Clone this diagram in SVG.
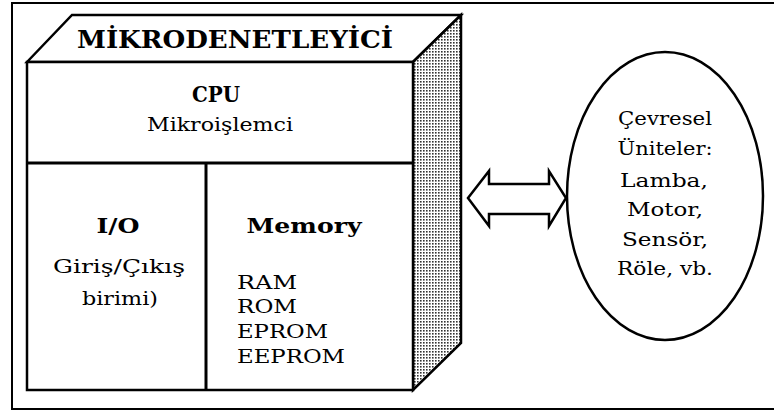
<svg xmlns="http://www.w3.org/2000/svg" width="774" height="412" viewBox="0 0 774 412">
<style>
.ln{stroke:#000;stroke-width:2.5;stroke-linejoin:miter}
.t{font-family:"DejaVu Serif","Liberation Serif",serif;fill:#000}
.b{font-weight:bold}
.c{text-anchor:middle}
.r{font-size:18px}
</style>
<defs>
<pattern id="stip" width="3" height="3" patternUnits="userSpaceOnUse">
<rect width="3" height="3" fill="#fff"/>
<rect x="0" y="0" width="1.6" height="1.6" fill="#333"/>
</pattern>
</defs>
<rect width="774" height="412" fill="#fff"/>
<g id="frame">
<path d="M790 3 H12 V409 H790" fill="none" stroke="#000" stroke-width="2"/>
</g>
<g id="mikrodenetleyici">
<polygon points="27,62 72,15 461,15 413,62" fill="#fff" class="ln"/>
<polygon points="413,62 461,15 461,343 413,390" fill="url(#stip)" class="ln"/>
<rect x="27" y="62" width="386" height="328" fill="#fff" class="ln"/>
<text class="t b" x="235" y="48" font-size="24" text-anchor="middle" textLength="316" lengthAdjust="spacingAndGlyphs">MİKRODENETLEYİCİ</text>
</g>
<g id="cpu">
<line x1="27" y1="163" x2="413" y2="163" stroke="#000" stroke-width="3"/>
<text class="t b c" x="216" y="102" font-size="22" textLength="48" lengthAdjust="spacingAndGlyphs">CPU</text>
<text class="t c" x="220" y="131" font-size="19" textLength="146" lengthAdjust="spacingAndGlyphs">Mikroişlemci</text>
</g>
<g id="io">
<line x1="206" y1="163" x2="206" y2="390" stroke="#000" stroke-width="3"/>
<text class="t b c" x="118" y="233" font-size="21" textLength="43" lengthAdjust="spacingAndGlyphs">I/O</text>
<text class="t c r" x="119" y="273" textLength="132" lengthAdjust="spacingAndGlyphs">Giriş/Çıkış</text>
<text class="t c r" x="120" y="305" textLength="76" lengthAdjust="spacingAndGlyphs">birimi)</text>
</g>
<g id="memory">
<text class="t b c" x="304" y="233" font-size="21" textLength="115" lengthAdjust="spacingAndGlyphs">Memory</text>
<text class="t r" x="237" y="289" textLength="60" lengthAdjust="spacingAndGlyphs">RAM</text>
<text class="t r" x="237" y="313" textLength="60" lengthAdjust="spacingAndGlyphs">ROM</text>
<text class="t r" x="237" y="338" textLength="91" lengthAdjust="spacingAndGlyphs">EPROM</text>
<text class="t r" x="237" y="363" textLength="108" lengthAdjust="spacingAndGlyphs">EEPROM</text>
</g>
<g id="connectors">
<polygon points="468,198 489,171 489,184 549,184 549,171 566,198 549,226 549,214 489,214 489,226" fill="#fff" stroke="#000" stroke-width="2.5" stroke-linejoin="miter"/>
</g>
<g id="cevresel">
<ellipse cx="665" cy="196" rx="98" ry="144" fill="#fff" stroke="#000" stroke-width="2.5"/>
<text class="t c r" x="665" y="125" textLength="94" lengthAdjust="spacingAndGlyphs">Çevresel</text>
<text class="t c r" x="665" y="155" textLength="95" lengthAdjust="spacingAndGlyphs">Üniteler:</text>
<text class="t c r" x="664" y="187" textLength="88" lengthAdjust="spacingAndGlyphs">Lamba,</text>
<text class="t c r" x="665" y="216" textLength="76" lengthAdjust="spacingAndGlyphs">Motor,</text>
<text class="t c r" x="665" y="246" textLength="86" lengthAdjust="spacingAndGlyphs">Sensör,</text>
<text class="t c r" x="665" y="275" textLength="96" lengthAdjust="spacingAndGlyphs">Röle, vb.</text>
</g>
</svg>
